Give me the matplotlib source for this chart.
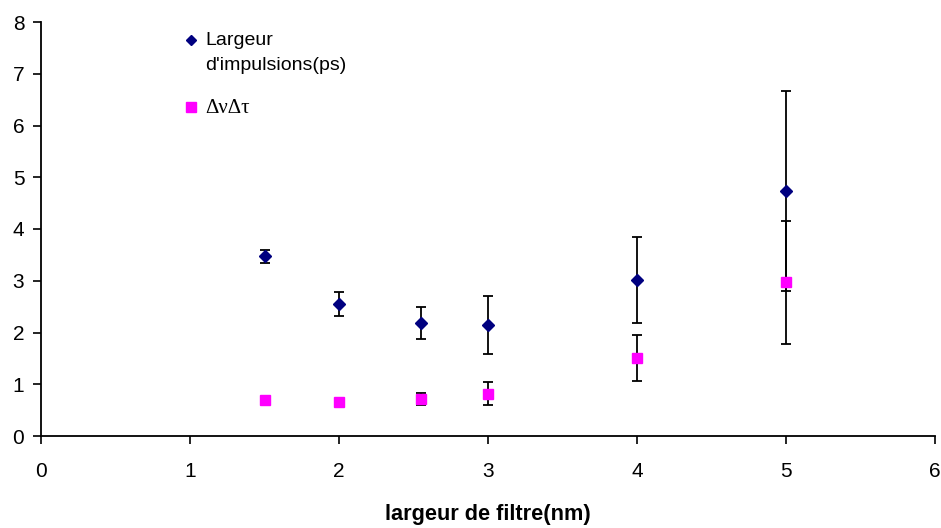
import matplotlib
matplotlib.use("Agg")
import numpy as np
import matplotlib.pyplot as plt
from matplotlib.legend_handler import HandlerLine2D

# Data
filter_width = [1.5, 2.0, 2.55, 3.0, 4.0, 5.0]
pulse_width = [3.47, 2.55, 2.19, 2.15, 3.02, 4.74]
pulse_err = [0.13, 0.24, 0.31, 0.56, 0.83, 1.93]
tbp = [0.69, 0.65, 0.72, 0.82, 1.51, 2.97]
tbp_err = [0.04, 0.05, 0.12, 0.22, 0.44, 1.19]

x_ticks = [0, 1, 2, 3, 4, 5, 6]
y_ticks = [0, 1, 2, 3, 4, 5, 6, 7, 8]

plt.rcParams['font.family'] = ['Liberation Sans', 'DejaVu Sans']


class ShiftedHandler(HandlerLine2D):
    def __init__(self, yshift=0.0, ms=None, **kw):
        super().__init__(**kw)
        self.yshift = yshift
        self.ms = ms

    def create_artists(self, legend, orig_handle, xdescent, ydescent,
                       width, height, fontsize, trans):
        arts = super().create_artists(legend, orig_handle, xdescent, ydescent,
                                      width, height, fontsize, trans)
        for a in arts:
            a.set_ydata(np.asarray(a.get_ydata()) + self.yshift)
            if self.ms is not None:
                a.set_markersize(self.ms)
        return arts


fig = plt.figure(figsize=(9.41, 5.28), dpi=100)
ax = fig.add_axes([41/941, (528-436)/528, (935-41)/941, (436-22)/528])

eb1 = ax.errorbar(filter_width, pulse_width, yerr=pulse_err, fmt='D', color='#000080',
                  ms=6.2, ecolor='black', elinewidth=1.3, capsize=3.8, capthick=1.3,
                  label="Largeur\nd'impulsions(ps)", zorder=3)
eb2 = ax.errorbar(filter_width, tbp, yerr=tbp_err, fmt='s', color='#FF00FF',
                  ms=7, ecolor='black', elinewidth=1.3, capsize=3.8, capthick=1.3,
                  label="\u0394\u03bd\u0394\u03c4", zorder=3)

ax.set_xlim(0, 6)
ax.set_ylim(0, 8)
ax.set_xticks(x_ticks)
ax.set_yticks(y_ticks)
ax.tick_params(direction='out', length=6, width=1.2, labelsize=15)
ax.tick_params(axis='x', pad=13)
ax.tick_params(axis='y', pad=6)
for s in ['top', 'right']:
    ax.spines[s].set_visible(False)
for s in ['left', 'bottom']:
    ax.spines[s].set_linewidth(1.3)

ax.set_xlabel('largeur de filtre(nm)', fontsize=15.7, fontweight='bold', labelpad=16)

leg = ax.legend([eb1[0], eb2[0]], ["Largeur\nd'impulsions(ps)", "\u0394\u03bd\u0394\u03c4"],
                handler_map={eb1[0]: ShiftedHandler(yshift=9, ms=5.2),
                             eb2[0]: ShiftedHandler(yshift=0, ms=6.5)},
                loc='upper left', bbox_to_anchor=(0.161, 0.975), frameon=False,
                fontsize=14, handlelength=0.6, handletextpad=0.45,
                labelspacing=1.3, borderaxespad=0, borderpad=0)
t1, t2 = leg.get_texts()
t1.set_linespacing(1.6)
t2.set_fontfamily(['Liberation Serif', 'DejaVu Serif'])
t2.set_fontsize(15)

fig.savefig('out.png', dpi=100)
